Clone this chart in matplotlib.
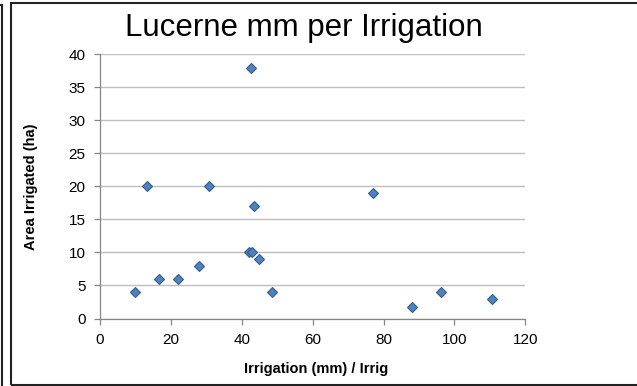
import matplotlib
matplotlib.use("Agg")
import matplotlib.pyplot as plt
from matplotlib.patches import Rectangle
from matplotlib.lines import Line2D

# Data
irrigation_mm = [10.0, 13.2, 16.7, 22.1, 27.9, 30.8, 42.7, 43.4, 41.9, 43.0, 44.9, 48.6, 77.1, 88.0, 96.1, 110.7]
area_ha = [4, 20, 6, 6, 8, 20, 38, 17, 10, 10, 9, 4, 19, 1.7, 4, 3]
x_ticks = [0, 20, 40, 60, 80, 100, 120]
y_ticks = [0, 5, 10, 15, 20, 25, 30, 35, 40]

plt.rcParams['font.family'] = ['Liberation Sans', 'DejaVu Sans']

W, H = 637, 386
fig = plt.figure(figsize=(W / 100, H / 100), dpi=100)
ax = fig.add_axes([100 / W, 1 - 318.5 / H, 425.3 / W, 264.2 / H])

ax.plot(irrigation_mm, area_ha, linestyle='none', marker='D', markersize=4.6,
        markerfacecolor='#4F81BD', markeredgecolor='#385D8A', markeredgewidth=0.8,
        zorder=3, clip_on=False)

ax.set_xlim(0, 120)
ax.set_ylim(0, 40)
ax.set_xticks(x_ticks)
ax.set_yticks(y_ticks)
ax.set_xticklabels([str(t) for t in x_ticks])
ax.set_yticklabels([str(t) for t in y_ticks])

for s in ['top', 'right']:
    ax.spines[s].set_visible(False)
for s in ['left', 'bottom']:
    ax.spines[s].set_color('#868686')
    ax.spines[s].set_linewidth(0.9)

ax.yaxis.grid(True, color='#BEBEBE', linewidth=1.0)
ax.set_axisbelow(True)
ax.tick_params(axis='both', colors='#868686', length=4, width=0.9, labelsize=11,
               labelcolor='#000000', pad=6.5)

fig.text(0.477, 1 - 28 / H, 'Lucerne mm per Irrigation', ha='center', va='center',
         fontsize=22.5)
fig.text(316 / W, 1 - 369 / H, 'Irrigation (mm) / Irrig', ha='center', va='center',
         fontsize=10.5, fontweight='bold')
fig.text(31 / W, 1 - 186.5 / H, 'Area Irrigated (ha)', ha='center', va='center',
         fontsize=10.5, fontweight='bold', rotation=90)

# Borders
fig.patches.append(Rectangle((10.7 / W, 1 - 385 / H), 640 / W, (385 - 2.7) / H,
                             transform=fig.transFigure, fill=False,
                             edgecolor='#222222', linewidth=1.5))
fig.lines.append(Line2D([2.3 / W, 2.3 / W], [1 - 5 / H, 0], transform=fig.transFigure,
                        color='#222222', linewidth=1.5))
fig.lines.append(Line2D([0, 2.3 / W], [1 - 5 / H, 1 - 5 / H], transform=fig.transFigure,
                        color='#222222', linewidth=1.5))

fig.savefig('out.png', dpi=100)
